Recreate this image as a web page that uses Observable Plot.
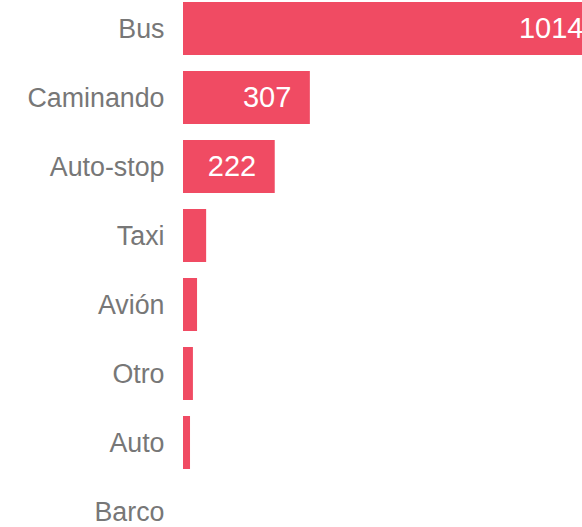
<!DOCTYPE html>
<html>
<head>
<meta charset="utf-8">
<script src="https://cdn.jsdelivr.net/npm/d3@7"></script>
<script src="https://cdn.jsdelivr.net/npm/@observablehq/plot@0.6"></script>
<style>
  html, body { margin: 0; padding: 0; background: #fff; overflow: hidden; }
  #chart { width: 582px; height: 527px; overflow: hidden; }
</style>
</head>
<body>
<div id="chart"></div>
<script>
const categories = ["Bus", "Caminando", "Auto-stop", "Taxi", "Avión", "Otro", "Auto", "Barco"];
const values = [1014, 307, 222, 56, 34, 24, 17, 0];
const labelThreshold = 100;

const data = categories.map((c, i) => ({ category: c, value: values[i] }));

const chart = Plot.plot({
  width: 582,
  height: 527,
  marginLeft: 183,
  marginRight: 0,
  marginTop: 0,
  marginBottom: 0,
  style: { fontFamily: "Arial, 'Liberation Sans', sans-serif", background: "#fff", overflow: "hidden" },
  x: { domain: [0, 1014], range: [183, 602], axis: null },
  y: { domain: categories, range: [-14, 554], padding: 0.232, round: false, label: null },
  marks: [
    Plot.barX(data.filter(d => d.value > 0), { x: "value", y: "category", fill: "#F04B63" }),
    Plot.text(data.filter(d => d.value >= labelThreshold), {
      x: "value", y: "category", text: d => String(d.value),
      textAnchor: "end", dx: -19, fill: "#fff", fontSize: 29
    }),
    Plot.axisY({ tickSize: 0, tickPadding: 19, fontSize: 26.8, fill: "#777777", anchor: "left", label: null })
  ]
});
document.getElementById("chart").appendChild(chart);
</script>
</body>
</html>
